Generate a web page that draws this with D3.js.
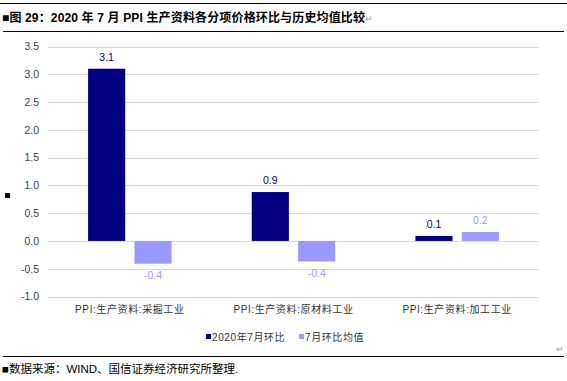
<!DOCTYPE html>
<html><head><meta charset="utf-8">
<script src="https://cdn.jsdelivr.net/npm/d3@7"></script>
<style>
body{margin:0;background:#fff;}
svg{display:block;font-family:"Liberation Sans","Noto Sans CJK SC",sans-serif;}
</style></head>
<body>
<script>
const categories = ["PPI:生产资料:采掘工业", "PPI:生产资料:原材料工业", "PPI:生产资料:加工工业"];
const seriesNames = ["2020年7月环比", "7月环比均值"];
const july2020 = [3.1, 0.88, 0.09];
const julyAvg = [-0.41, -0.37, 0.16];
const yTicks = [-1.0, -0.5, 0.0, 0.5, 1.0, 1.5, 2.0, 2.5, 3.0, 3.5];
const colors = ["#000080", "#9999ff"];
const titleText = "■图 29：2020 年 7 月 PPI 生产资料各分项价格环比与历史均值比较";
const sourceText = "■数据来源：WIND、国信证券经济研究所整理.";

const W = 567, H = 381;
const svg = d3.select("body").append("svg").attr("width", W).attr("height", H);
const fmt = d3.formatLocale({decimal:".",thousands:",",grouping:[3],currency:["",""],minus:"-"}).format(".1f");

// header / footer rules
svg.append("line").attr("x1",0).attr("x2",W).attr("y1",3.5).attr("y2",3.5).attr("stroke","#000").attr("stroke-width",1);
svg.append("line").attr("x1",3).attr("x2",564).attr("y1",31.5).attr("y2",31.5).attr("stroke","#000").attr("stroke-width",1);
svg.append("line").attr("x1",3).attr("x2",564).attr("y1",356.5).attr("y2",356.5).attr("stroke","#000").attr("stroke-width",1);

const title = svg.append("text").attr("x",2).attr("y",22).attr("font-size",12).attr("font-weight","bold").attr("fill","#000").attr("letter-spacing",0.15);
title.append("tspan").text(titleText);
title.append("tspan").attr("fill","#999").attr("font-weight","normal").attr("font-size",9).text("↵");

svg.append("text").attr("x",2).attr("y",373).attr("font-size",11.5).attr("fill","#000").text(sourceText);
svg.append("text").attr("x",556).attr("y",352).attr("font-size",9).attr("fill","#999").text("↵");

// left marker
svg.append("rect").attr("x",5).attr("y",193).attr("width",5).attr("height",5).attr("fill","#000");

// scales
const plotL = 48, plotR = 539;
const y = d3.scaleLinear().domain([-1, 3.5]).range([296.5, 46.5]);
const x0 = d3.scaleBand().domain(categories).range([plotL, plotR]).padding(0);
const bw = x0.bandwidth();
const x1 = d3.scaleBand().domain(seriesNames).range([bw*0.245, bw*0.755]).paddingInner(0.2).paddingOuter(0);

// gridlines
svg.append("g").selectAll("line").data(yTicks).join("line")
  .attr("x1",plotL).attr("x2",plotR)
  .attr("y1",d=>Math.round(y(d))+0.5).attr("y2",d=>Math.round(y(d))+0.5)
  .attr("stroke","#d9d9d9").attr("stroke-width",1.2);

// y axis labels
const yAxis = d3.axisLeft(y).tickValues(yTicks).tickFormat(fmt).tickSize(0).tickPadding(0);
const gy = svg.append("g").attr("transform",`translate(39,0)`).call(yAxis);
gy.select(".domain").remove();
gy.selectAll("text").attr("font-size",10.5).attr("fill","#404040").attr("font-family","Liberation Sans, sans-serif");

// bars
const rows = categories.map((c,i)=>({cat:c, vals:[{s:seriesNames[0],v:july2020[i],k:0},{s:seriesNames[1],v:julyAvg[i],k:1}]}));
const g = svg.append("g");
const cg = g.selectAll("g").data(rows).join("g").attr("transform",d=>`translate(${x0(d.cat)},0)`);
cg.selectAll("rect").data(d=>d.vals).join("rect")
  .attr("x",d=>x1(d.s)).attr("width",x1.bandwidth())
  .attr("y",d=>y(Math.max(0,d.v))).attr("height",d=>Math.abs(y(d.v)-y(0)))
  .attr("fill",d=>colors[d.k]);
cg.selectAll("text").data(d=>d.vals).join("text")
  .attr("x",d=>x1(d.s)+x1.bandwidth()/2)
  .attr("y",d=> d.v>=0 ? y(d.v)-8 : y(d.v)+15)
  .attr("text-anchor","middle").attr("font-size",10.5)
  .attr("fill",d=>colors[d.k])
  .text(d=>fmt(d.v));

// category labels
const xAxis = d3.axisBottom(x0).tickSize(0).tickPadding(0);
const gx = svg.append("g").attr("transform","translate(0,306)").call(xAxis);
gx.select(".domain").remove();
gx.selectAll("text").attr("font-size",10).attr("fill","#333").attr("letter-spacing",0.6)
  .attr("font-family","Liberation Sans, Noto Sans CJK SC, sans-serif");

// legend
const legX = [206, 299];
const lg = svg.append("g").selectAll("g").data(seriesNames).join("g")
  .attr("transform",(d,i)=>`translate(${legX[i]},0)`);
lg.append("rect").attr("x",0).attr("y",334).attr("width",5).attr("height",5).attr("fill",(d,i)=>colors[i]);
lg.append("text").attr("x",6).attr("y",340.5).attr("font-size",10).attr("fill","#333").attr("letter-spacing",0.6).text(d=>d);
</script>
</body></html>
